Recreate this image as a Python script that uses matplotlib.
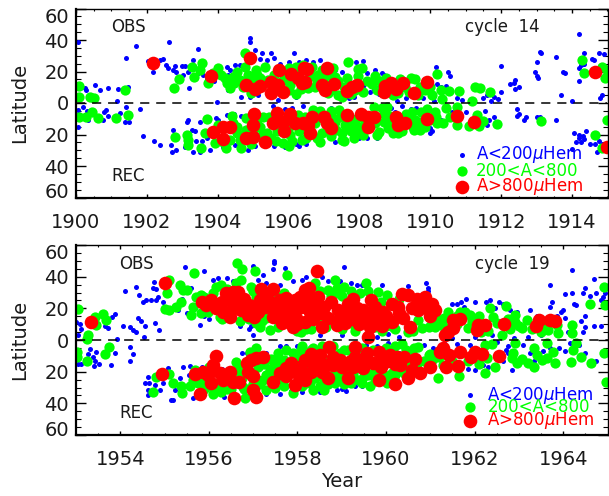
import matplotlib
matplotlib.use("Agg")
import matplotlib.pyplot as plt
from matplotlib.ticker import MultipleLocator, FixedLocator
from matplotlib.transforms import ScaledTranslation

# cycle 14 as (year, latitude), south is negative
small_14 = [
    (1900.06,38.7),(1901.69,36.4),(1902.63,38.7),(1903.43,34.3),(1901.42,28.8),(1904.9,41),(1904.9,38.5),(1905.05,33.7),
    (1905.24,31.5),(1905.5,31.5),(1906.15,32),(1900.25,9.3),(1900.53,11.4),(1900.29,8.3),(1900.89,9.3),(1901.19,8.9),
    (1901.47,9.9),(1900.67,8.3),(1901.17,1.5),(1902.03,26.7),(1902.36,27.3),(1902.46,27.7),(1902.18,19.9),(1902.6,22),
    (1902.79,23.5),(1902.98,23.5),(1903.09,23.5),(1902.83,19.9),(1903.02,17.8),(1903.18,9.5),(1903.98,0.8),(1903.59,17.8),
    (1904.25,23),(1904.34,21),(1903.87,19.9),(1904.62,24),(1904.67,4),(1904.91,4),(1905.14,5),(1905.4,27),(1905.75,25),
    (1906,26),(1906.2,4),(1905.7,2),(1903.7,15),(1903.9,14),(1904.3,8),(1904.3,18),(1904.5,24),(1902.75,21),(1902.55,24),
    (1903.15,20),(1903.3,27),(1903.45,19),(1905.2,28),(1905.6,28.5),(1906.3,26),(1906.5,27),(1906.7,26),(1906.9,27.5),
    (1907.1,24),(1907.3,21),(1907.5,19.5),(1907.9,26),(1908.1,26.5),(1908.2,19),(1908.45,21),(1908.65,19),(1908.7,18),
    (1908.8,16),(1909,12),(1908.1,11),(1908.3,7),(1908.4,8),(1908.55,6),(1907.85,4),(1907.7,3),(1909.3,3),(1909.05,1.5),
    (1909.6,4),(1909.8,3),(1910.1,1.5),(1910.15,23),(1910.5,19.5),(1910.55,17),(1910.2,12),(1910.3,10),(1910.4,8),
    (1910.45,11),(1910.75,3),(1910.9,2),(1911.5,3),(1911.6,5),(1911.7,1),(1911.8,4),(1911.9,2.5),(1911.99,7),(1912.0,23.5),
    (1912.25,12),(1912.35,13),(1912.38,14.5),(1912.4,9),(1912.5,10),(1912.95,20),(1913.0,17),(1913.05,16),(1913.1,32.5),
    (1913.12,32),(1913.0,26),(1913.55,29),(1913.75,20),(1913.8,19),(1913.7,5),(1914.2,22),(1914.25,24),(1914.3,25),
    (1914.2,44),(1914.35,32),(1914.35,25),(1914.55,28),(1914.62,27),(1914.75,32),(1914.9,31),(1914.8,3),(1914.85,5),
    (1914.0,1),(1914.2,14),(1900.06,-15.4),(1900.06,-4.4),(1900.2,-2.8),(1900.34,-10.8),(1900.76,-10.8),(1900.86,-4.4),
    (1901.23,-6.6),(1901.4,-2.3),(1901.37,-12.3),(1901.5,-12.3),(1901.8,-3.6),(1901.9,-21),(1902.19,-23.9),(1902.36,-26.7),
    (1902.74,-17.1),(1902.69,-26.7),(1902.72,-30.9),(1902.83,-29.8),(1903.07,-27.7),(1903.31,-30.9),(1903.49,-30.9),
    (1903.26,-17),(1903.35,-18),(1903.12,-11.9),(1903.16,-11),(1903.49,-11.9),(1903.78,-29.8),(1903.96,-9.7),(1904,-10.8),
    (1904.25,-7.6),(1904.48,-26.7),(1904.86,-29.8),(1900.9,-8),(1900.8,-6),(1900.3,-5),(1900.15,-8),(1903.55,-24),
    (1903.4,-24),(1903.7,-22),(1904.15,-28),(1904.45,-7),(1904.65,-8),(1905.55,-2),(1905.9,-4),(1906.1,-3),(1906.2,-26),
    (1905.6,-27),(1905.9,-28),(1905.05,-27),(1906.4,-2),(1906.3,-27),(1906.5,-26),(1907.2,-3),(1907.3,-25),(1907.5,-24),
    (1908.0,-22.5),(1908.2,-22),(1908.5,-22),(1908.6,-4),(1908.9,-3),(1909,-6),(1909.2,-2),(1909.45,-4),(1909.6,-3),
    (1909.65,-18),(1910.0,-16),(1910.05,-18),(1910.0,-19),(1910.2,-8),(1910.3,-11),(1910.6,-6),(1910.75,-4),(1911.0,-6),
    (1911.15,-12),(1911.4,-10),(1911.55,-5),(1911.6,-14),(1911.65,-11),(1911.8,-9),(1912.45,-4),(1912.5,-7),(1912.45,-8),
    (1912.65,-11),(1912.7,-9),(1913.0,-9),(1913.1,-9),(1913.55,-11),(1914,-29),(1914.05,-19),(1914.1,-25),(1914.2,-20.5),
    (1914.2,-22),(1914.3,-21),(1914.25,-25),(1914.35,-23),(1914.4,-17.5),(1914.5,-26),(1914.65,-26),(1914.7,-31),
    (1914.75,-24),(1914.85,-26),(1914.9,-30),
]
medium_14 = [
    (1900.08,10.8),(1900.08,4),(1900.4,4),(1900.5,3.4),(1901.39,8.3),(1902.76,9.7),(1902.9,15),(1903.26,23),(1903.56,25.6),
    (1903.33,16.7),(1903.49,21),(1903.73,12.5),(1904.01,22),(1903.87,18.8),(1904.2,15.7),(1904.25,12.5),(1904.34,9.3),
    (1904.53,19.9),(1904.76,31.5),(1904.76,23),(1904.62,14.6),(1904.43,16.7),(1904.86,17.8),(1905.09,21),(1905.33,23),
    (1905.19,15.7),(1904.95,6.1),(1905.42,14.6),(1906.04,11.4),(1905.94,16.7),(1906.22,23),(1906.22,6),(1906.41,24),
    (1900.08,-9.1),(1900.27,-8.7),(1900.46,-5.9),(1900.62,-9.3),(1901.12,-9.3),(1901.46,-7.8),(1902.79,-21.8),(1903.12,-20.3),
    (1903.15,-23.5),(1903.16,-26.7),(1903.54,-28.4),(1903.7,-10.2),(1903.63,-18.8),(1903.92,-25.6),(1904.23,-28.8),
    (1904.39,-8),(1904.53,-19.3),(1904.67,-28.8),(1904.81,-9.7),(1905.28,-8.7),(1905.19,-15),(1905.24,-20.3),(1905.38,-19),
    (1905.66,-18),(1905.85,-25.6),(1906.04,-20),(1906.37,-23.5),(1906.27,-7.6),(1906.47,-8.7),(1904.43,-12.9),(1904.62,-23.5),
    (1904.34,-23.5),(1905.5,-22),(1906.1,-24),(1905.0,-17),(1907.69,25.8),(1907.97,21.6),(1908.07,22.4),(1906.98,16.7),
    (1906.75,16.7),(1906.84,17.8),(1907.31,16.7),(1907.64,15.7),(1906.56,9.3),(1906.75,10.4),(1907.12,6.1),(1907.5,4),
    (1907.88,8.3),(1908.35,12),(1908.58,14.2),(1909.57,15.2),(1910.18,18.4),(1910.04,5),(1910.52,7.8),(1910.82,7.8),
    (1910.33,2.5),(1911.17,1.5),(1911.25,9.9),(1911.41,9.5),(1911.69,7.2),(1909.71,9.9),(1909.85,8.3),(1909.1,6.1),
    (1909.29,10.4),(1906.6,18),(1907,13),(1907.2,8),(1907.4,5),(1906.89,-24.5),(1907.5,-23.5),(1907.69,-16),(1907.83,-12.9),
    (1907.97,-19.3),(1907.41,-4.4),(1907.6,-14),(1907.75,-18),(1908,-15),(1907.9,-10),(1908.1,-20),(1907.7,-9),(1907.5,-19),
    (1907.3,-12),(1907.2,-21),(1906.95,-19),(1906.7,-4.5),(1906.9,-5),(1907.2,-8),(1908.4,-2.3),(1908.63,-3.4),(1908.77,-2.8),
    (1908.68,-11.9),(1908.54,-18.2),(1908.96,-19.3),(1909.48,-5.5),(1909.57,-10.8),(1909.71,-17.1),(1910.14,-5.5),
    (1910.44,-3),(1910.37,-12.9),(1910.75,-2.3),(1910.75,-14),(1911.08,-14.4),(1911.31,-7.6),(1911.5,-11.2),(1911.36,-14.6),
    (1911.88,-13.5),(1913.13,-11.4),(1914.64,-20.3),(1914.33,19.3),(1914.28,27.3),(1914.85,23),(1914.94,15.7),(1914.98,-10.8),
    (1914.84,-28.8),(1914.99,21),(1908.8,-16),(1909.1,-19),(1909.3,-7),(1909.75,-6),(1909.9,-4),(1910,-11),(1910.2,-13),
    (1908.85,-8),(1909.5,-15),
    (1904.1,18),(1904.45,13),(1904.7,10),(1904.95,14),(1905.1,18),(1905.3,13),(1905.6,18),(1905.8,14),(1906,8),(1906,22),
    (1906.2,18),(1906.35,9),(1906.65,23),(1906.8,13),(1906.95,21),(1907.1,18),(1907.25,22),(1907.4,14),(1907.55,10),(1907.75,6),
    (1907.95,17),(1908.1,7),(1908.2,14),(1908.45,17),(1908.5,8),(1908.75,16),(1908.95,5),(1909.15,15),(1909.4,7),(1909.45,16),
    (1909.65,5),(1910,10),(1910.3,8),(1904.0,-14),(1904.15,-25),(1904.55,-15),(1904.8,-17),(1904.95,-26),(1905.1,-11),(1905.45,-9),
    (1905.4,-25),(1905.65,-24),(1906.0,-15),(1906,-27),(1906.3,-18),(1906.5,-22),(1906.75,-13),(1906.8,-22),(1907.2,-5),(1907.35,-17),
    (1907.45,-9),(1907.55,-24),(1907.85,-22),(1908.15,-11),(1908.45,-13),(1908.5,-20),(1908.7,-7),(1908.95,-13),(1909.2,-18),
    (1909.4,-10),(1909.55,-17),(1909.7,-12),(1909.85,-15),(1910.15,-9),(1910.55,-9),
]
large_14 = [
    (1902.18,25.2),(1903.82,17),(1904.9,28.8),(1904.8,11.4),(1905.05,8.7),(1905.2,10.8),(1905.5,13.5),(1905.73,21),(1905.5,6.5),
    (1905.85,7.2),(1905.7,11.4),(1906.08,18.4),(1906.27,15.7),(1906.43,22),(1906.37,12.5),(1903.87,-18.2),(1904.15,-15.4),
    (1904.36,-15.4),(1904.15,-23),(1904.8,-22.4),(1905,-21.4),(1905,-14),(1905.02,-7.2),(1905.33,-24.5),(1905.56,-13),
    (1905.68,-6.6),(1905.85,-11.9),(1905.87,-17.6),(1906.05,-7),(1906.18,-13),(1906.41,-13),(1906.51,21.6),(1907.08,22),
    (1906.47,13.5),(1906.94,11.4),(1907.03,8.3),(1907.27,12),(1907.64,7.8),(1907.78,10),(1907.92,11.4),(1908.68,7.2),
    (1908.73,10.8),(1908.9,12.9),(1909.03,8.7),(1909.24,12.5),(1909.55,6.1),(1909.92,13.5),(1906.65,-8.7),(1906.56,-14),
    (1906.6,-19.3),(1907,-8.7),(1907.08,-12.9),(1907.2,-16),(1907.64,-7.6),(1908.05,-7.2),(1908.25,-8.7),(1908.4,-8.7),
    (1908.25,-15.4),(1909.04,-9.1),(1909.09,-14),(1909.29,-12.9),(1909.92,-10.2),(1910.75,-8),(1911.22,-12.3),(1914.64,19.7),
    (1915,-27.7),
]

# cycle 19
small_19 = [
    (1954.1,31.2),(1954.35,33.3),(1954.42,28.4),(1954.75,36.4),(1954.74,33),(1954.81,32),(1955.45,45.9),(1955.9,43.6),
    (1954.51,24),(1954.59,25),(1954.7,25),(1954.81,25.5),(1954.96,24),(1954.85,27),(1954.06,9),(1954.21,8),(1954.29,6.3),
    (1954.36,5),(1954.4,13.7),(1954.47,12),(1954.55,9),(1954.53,2),(1954.78,10.5),(1954.87,6.3),(1953.93,0.4),(1955.81,9.5),
    (1953.01,11.5),(1953.05,3),(1953.12,6.7),(1953.72,7.4),(1953.81,14.3),(1953.89,16.4),(1953.65,9),(1953.1,10),
    (1956.99,46.5),(1957.22,41),(1957.46,50),(1957.46,48.4),(1957.73,45.5),(1957.45,44.6),(1956.1,38),(1956.2,39),(1956.4,39),
    (1956.55,37),(1955.6,33),(1955.7,28),(1955.4,26),(1955.3,19),(1955.5,17),(1955.9,15),(1956.0,13.5),(1956.95,9),
    (1957.0,3),(1957.2,8),(1956.7,9),(1956.9,7),(1957.1,38),(1957.3,36),(1957.6,35),(1957.9,37),(1958.1,38),(1958.2,40),
    (1958.4,44),(1958.55,40),(1958.7,37),(1958.95,37),(1959.05,46),(1959.2,36),(1959.35,35),(1959.45,35),(1958.1,4),
    (1958.5,3),(1959.0,3),(1959.5,1.5),(1959.8,2),(1960.05,4),(1960.3,2),(1959.9,35),(1960.5,34),(1960.9,36),(1960.95,33),
    (1960.95,31),(1961.1,23),(1961.4,19),(1961.5,23),(1961.6,23),(1961.7,24),(1961.8,26),(1961.75,21),(1962.0,24),(1962.25,24),
    (1962.35,25),(1962.55,24),(1962.65,23),(1962.45,20),(1962.8,19),(1962.95,18),(1963.25,19),(1963.4,15),(1963.7,21),(1963.85,15),
    (1963.95,18),(1964.0,19),(1964.05,14),(1964.3,22),(1964.2,30),(1964.25,23),(1963.7,35),(1963.75,24),(1964.05,29),(1964.2,44),
    (1964.45,30),(1964.5,33),(1964.6,28),(1964.7,38.5),(1964.75,30),(1964.85,25),(1964.9,27),(1964.95,30),(1964.85,9),(1964.7,9),
    (1964.5,8),(1964.45,5),(1964.4,12),(1964.5,15),(1964.1,5),(1963.5,3),(1963.2,2),(1962.9,1.5),(1962.4,3),(1962,2),(1961.5,1.5),
    (1953.05,-15),(1953.31,-5.5),(1953.46,-7.4),(1953.27,-9),(1953.12,-15),(1953.38,-10.5),(1953.4,-16.4),(1953.53,-15),
    (1953.8,-16),(1953.87,-8.4),(1954.23,-4.6),(1954.29,-9),(1954.21,-13.3),(1953.42,-13),(1954.55,-27),(1954.63,-23.6),
    (1954.64,-27.4),(1954.63,-31.6),(1954.63,-35),(1954.78,-28.4),(1954.89,-31.6),(1954.96,-27.4),(1955.15,-38),(1955.2,-38),
    (1955.23,-31.6),(1955.08,-17.9),(1955.42,-16.8),(1955.57,-16.4),(1955.64,-36.4),(1955.87,-29),(1955.35,-24),(1955.55,-22),
    (1955.85,-17),(1956.3,-18),(1956.75,-8),(1956.85,-8),(1957.0,-6),(1957.3,-8),(1957.6,-4),(1957.75,-4),(1958.0,-4),
    (1957.0,-34),(1956.8,-33),(1956.35,-36),(1956.5,-33),(1957.3,-34),(1957.6,-34),(1957.85,-32),(1958.1,-33),(1958.5,-33),
    (1958.9,-31.5),(1959.0,-31),(1959.1,-32),(1959.3,-29),(1959.45,-29),(1959.55,-3),(1959.8,-4),(1960.05,-2),(1960.3,-8),
    (1960.85,-3),(1961.05,-5),(1961.1,-7),(1961.3,-2),(1961.6,-2.5),(1961.9,-3),(1961.85,-18),(1962,-19),(1962.2,-16),(1962.3,-17),
    (1962.4,-3),(1962.5,-1.5),(1962.7,-6),(1962.75,-4),(1962.75,-8),(1962.65,-13),(1962.85,-19),(1963.1,-3),(1963.25,-8),
    (1963.35,-13),(1963.55,-7),(1963.7,-5),(1963.9,-5),(1964.05,-7),(1964.15,-2),(1964.35,-3),(1964.5,-8),(1964.75,-13),(1964.95,-7),
]
medium_19 = [
    (1953.05,19.4),(1953.42,14.7),(1953.61,16.4),(1953.67,12.6),(1953.27,3.2),(1953.46,9.5),(1953.25,0.4),(1955.11,38),(1955.05,29.5),
    (1955,19.6),(1955.11,19),(1955.26,21),(1955.38,24.2),(1955.34,34.7),(1955.42,31.6),(1955.51,31.6),(1955.66,42.5),(1955.6,15.8),
    (1955.72,27.4),(1955.64,21),(1955.83,28.4),(1955.83,16.8),(1956.17,33.7),(1956.28,34.7),(1956.63,48.4),(1956.75,44.8),
    (1956.62,36.2),(1956.72,37.9),(1957.05,43.8),(1956.96,33.7),(1957.07,27.4),(1957.07,10.5),(1957.15,8),(1957.37,6.3),
    (1957.3,13.7),(1957.56,27.4),(1957.77,41),(1956.24,14.7),(1955.98,18),(1958.09,5.3),(1953.25,-13.3),(1953.02,-7.4),
    (1953.02,-10.5),(1953.74,-4.2),(1953.66,-9),(1954.8,-23.6),(1954.74,-33),(1955.11,-21.7),(1955.2,-27),(1955.38,-28.8),
    (1955.4,-33.7),(1955.57,-28.8),(1955.68,-19),(1955.75,-27.4),(1956.09,-34.3),(1956.28,-32.6),(1956.62,-13.7),(1956.66,-20),
    (1956.81,-36.4),(1956.77,-29.5),(1956.92,-7.4),(1957.07,-5.3),(1957.3,-31.6),(1957.22,-25.3),(1957.37,-19),(1957.56,-8.4),
    (1957.75,-6.3),(1957.9,-33.3),(1957.9,-8.4),(1958.09,-6.3),(1957.7,-12.6),(1957.56,-21),(1957.67,-25),(1957.45,-17),
    (1958.0,-29),(1958.13,-17),(1958.1,-29),(1955.9,-31),(1956.1,-30),(1956.4,-31),(1956.0,-17),(1956.95,-30),(1957.5,-30),
    (1957.25,-15),(1957.4,-12),(1957.55,-14),(1957.7,-29),(1957.15,-28),(1956.2,-27),
    (1958.85,37.9),(1959.06,33.7),(1959.54,35.8),(1958.89,29.5),(1958.7,31.6),(1959.41,29.5),(1959.81,30.5),(1960.02,28.4),
    (1959.89,24.2),(1962.35,20),(1962.7,21.7),(1964.6,22.7),(1964.93,33.7),(1964.95,22),(1961.78,17.9),(1961.9,15.8),(1961.67,17.9),
    (1961.41,17.9),(1961.11,8.4),(1960.81,7.4),(1960.96,8.4),(1960.73,12.6),(1961.22,12.6),(1961.86,7.4),(1961.93,11.6),
    (1962.42,14.3),(1962.61,3.2),(1962.91,15.8),(1962.91,11.6),(1963.06,7.4),(1963.18,12.6),(1963.66,6.3),(1963.89,4.2),
    (1963.85,9.5),(1964.19,9.5),(1964.19,4.2),(1961.41,13.7),(1961.3,8.4),(1958.2,7),(1958.4,36),(1958.6,12),(1958.75,28),
    (1959,7),(1959.3,6),(1959.9,6),(1960.2,7),(1960.5,5),(1961.0,14),(1961.6,10),(1962.15,5),(1962.3,6),(1962.8,7),
    (1955.9,27),(1956.1,30),(1956.3,13),(1956.4,32),(1956.7,12),(1956.9,13),(1957,31),(1957.2,12),(1957.3,18),(1957.55,8),(1957.7,30),
    (1958,6),(1958.1,28),(1958.3,7),(1958.35,34),(1958.5,31),(1958.65,8),(1958.9,33),(1959,28),(1959.2,31),(1959.3,8),(1959.6,31),
    (1959.75,8),(1960.0,9),(1960.15,8),(1960.3,26),(1960.6,6),(1960.7,25),(1961.1,12),(1961.1,17),(1961.3,14),(1961.6,15),(1961.95,13),
    (1962.1,15),(1962.5,11),(1962.75,13),(1963,9),(1963.3,7),(1963.55,9),(1963.5,5),
    (1958.59,-31.6),(1958.36,-31.6),(1958.28,-27.4),(1958.85,-27.4),(1958.92,-21),(1959.64,-28.8),(1960.02,-27.4),(1959.38,-25.3),
    (1960.13,-21),(1960.35,-2.5),(1960.62,-5.3),(1960.73,-4.2),(1960.58,-11.6),(1960.96,-9.5),(1961.18,-24.2),(1961.65,-22.7),
    (1961.29,-15.8),(1962.23,-21),(1962.46,-16.8),(1962.39,-2.5),(1962.23,-3.2),(1962.27,-11.6),(1962.91,-2.1),(1962.87,-8.4),
    (1962.84,-11.6),(1962.95,-14.7),(1963.06,-12.2),(1963.21,-14.7),(1963.33,-5.3),(1963.33,-16.8),(1963.4,-9.5),(1963.51,-12.6),
    (1963.63,-2.1),(1963.63,-11.6),(1963.78,-7.4),(1963.81,-14.7),(1964.18,-13.7),(1964.23,-6.3),(1964.28,-2.1),(1964.4,-10.5),
    (1964.63,-14.3),(1964.91,-8.4),(1964.96,-26.3),(1958.3,-6),(1958.5,-20),(1958.6,-25),(1958.8,-4),(1959.05,-6),(1959.1,-20),
    (1959.3,-18),(1959.5,-23),(1959.7,-21),(1959.95,-22),(1960.3,-19),(1960.5,-17),(1960.7,-15),(1961.05,-12),(1961.2,-11),
    (1961.5,-13),(1961.85,-13),(1962.1,-15),
    (1957.95,-12),(1958.0,-20),(1958.2,-27),(1958.3,-15),(1958.4,-24),(1958.5,-29),(1958.6,-13),(1958.7,-28),(1958.8,-22),(1958.95,-25),
    (1959.05,-28),(1959.2,-27),(1959.25,-22),(1959.45,-27),(1959.6,-22),(1959.75,-26),(1959.9,-21),(1960.05,-23),(1960.2,-22),(1960.4,-21),
    (1960.55,-14),(1960.85,-13),(1961,-9),(1958.05,-10),(1958.1,-4),(1958.35,-5),(1958.55,-4),(1958.95,-8),(1959.15,-6),(1959.45,-5),
    (1959.7,-6),(1960,-5),(1960.2,-4),(1960.5,-8),(1960.45,-6),(1957.1,-17),(1957.3,-22),(1957.1,-25),(1957.5,-22),(1956.75,-24),
    (1956.3,-30),(1956.5,-31),(1956.8,-31),(1957.0,-28),(1955.9,-26),(1955.65,-25),(1956.65,-17),
]
large_19 = [
    (1953.33,11.4),(1955.02,36.2),(1955.85,24.2),(1956.05,25.3),(1955.94,22),(1956.17,20),(1956.32,17.9),(1956.47,14.7),(1956.39,29.5),
    (1956.54,30.5),(1956.66,30.5),(1956.51,25),(1956.69,24),(1956.8,26),(1956.54,20),(1956.73,19),(1956.88,15.8),(1957.03,14.7),
    (1956.99,19),(1957.18,32),(1957.45,32),(1957.3,28.4),(1957.26,21),(1957.48,20),(1957.45,14.7),(1957.64,10.5),(1957.75,26.3),
    (1957.94,25.3),(1957.67,21),(1957.82,19),(1957.6,15.8),(1957.75,12.6),(1957.9,8.4),(1957.97,13.7),(1958.16,31.6),(1958.09,21),
    (1958.16,11.6),(1954.95,-21.5),(1955.68,-21.7),(1955.79,-34.3),(1956.15,-9.9),(1955.87,-20),(1955.98,-22),(1956.09,-15.8),
    (1956.05,-27.4),(1956.32,-25.3),(1956.47,-20),(1956.54,-26.3),(1956.69,-26.3),(1956.56,-36.8),(1956.85,-14.7),(1956.96,-12.6),
    (1957.07,-11.6),(1957.22,-10.5),(1956.88,-20),(1956.99,-23),(1956.99,-31.6),(1957.07,-35.8),(1957.45,-26.3),(1957.6,-21),
    (1957.75,-17.9),(1957.86,-14.7),(1957.94,-17.9),(1957.75,-23),(1957.94,-28.4),(1958.09,-23),(1958.16,-12.6),
    (1958.45,43.6),(1958.25,32.6),(1958.47,27.4),(1958.28,17.9),(1958.17,21),(1958.51,16.8),(1958.59,21),(1958.55,8.4),(1958.92,19),
    (1958.89,9.5),(1959.11,16.8),(1959.26,25.7),(1959.15,23),(1959.07,10.5),(1959.49,19),(1959.3,14.7),(1959.66,25.3),(1959.64,15.8),
    (1959.64,8.4),(1959.6,2.1),(1959.79,10.5),(1959.94,17.9),(1960.13,22.7),(1960.26,21),(1960.13,11.6),(1960.39,13.7),(1960.35,29),
    (1960.5,28.4),(1960.54,8.4),(1960.58,20),(1960.73,19),(1960.87,27),(1961.03,22.7),(1960.99,15.2),(1960.92,20),(1961.52,12.6),
    (1961.67,13),(1961.41,5.3),(1961.52,7.4),(1961.33,3.2),(1962.05,6.3),(1962.08,9.5),(1962.23,9.5),(1962.67,9.9),(1963.38,8.8),
    (1963.45,12.6),(1963.7,12.6),(1963.81,12),(1958.71,-4.2),(1958.51,-9.5),(1958.25,-12.6),(1958.17,-25),(1958.7,-24.2),
    (1958.66,-15.8),(1958.81,-10.5),(1958.96,-12.6),(1959.11,-14.7),(1959.15,-24.2),(1959.29,-4.2),(1959.3,-10.5),(1959.26,-16.8),
    (1959.56,-8.4),(1959.49,-17.9),(1959.71,-14.7),(1959.89,-16.8),(1959.84,-25.3),(1959.83,-7.4),(1960.09,-9.5),(1960.24,-10.5),
    (1960.32,-15.8),(1960.2,-27.8),(1960.49,-24.2),(1960.65,-12.2),(1960.58,-19),(1960.77,-20.6),(1960.99,-16.8),(1961.29,-5.3),
    (1961.22,-7.4),(1961.43,-9.5),(1961.67,-7.4),(1961.35,-16.8),(1961.63,-16.2),(1961.91,-10.5),(1962.01,-7.4),(1962.17,-8.8),
    (1962.54,-9.9),
    (1956.3,24),(1956.6,27),(1956.9,22),(1957.1,18),(1957.15,25),(1957.6,25),(1957.4,24),(1957.9,17),(1958.05,27),(1958.3,25),(1958.0,10),
    (1958.35,13),(1958.4,21),(1958.7,14),(1958.75,24),(1958.95,14),(1959.2,13),(1959.35,20),(1959.4,10),(1959.5,13),(1959.75,21),(1959.85,14),
    (1959.9,9),(1960.0,15),(1960.3,17),(1960.7,26),(1960.85,23),(1961.1,19),
    (1956.25,-21),(1958.0,-21),(1958.05,-17),(1958.3,-20),(1958.3,-9),(1958.45,-14),(1958.55,-20),(1958.8,-16),(1959,-17),(1959.45,-13),
    (1959.2,-13),(1959.95,-12),(1960.05,-13),(1960.2,-15),(1960.4,-11),
]

labels = ["A<200$\\mu$Hem", "200<A<800", "A>800$\\mu$Hem"]
colors = ["#0000ff", "#00ff00", "#ff0000"]
sizes = [3.6, 7.4, 9.8]

plt.rcParams["font.family"] = "DejaVu Sans"
plt.rcParams["mathtext.fontset"] = "dejavusans"
ink = "#1a1a1a"

fig = plt.figure(figsize=(6.09, 4.96), dpi=100)
ax1 = fig.add_axes([76 / 609, 1 - 197.5 / 496, 531.5 / 609, 189 / 496])
ax2 = fig.add_axes([76 / 609, 1 - 435 / 496, 531.5 / 609, 190 / 496])


def draw_panel(ax, small, medium, large, years, xticks, name, obs_x, name_x, key_x, key_off, key_y):
    for pts, c, s in zip([small, medium, large], colors, sizes):
        ax.plot([p[0] for p in pts], [p[1] for p in pts], "o", color=c, ms=s, mew=0)
    ax.plot(years, [0, 0], color="black", lw=1.1, dashes=(6, 4.5))
    ax.set_xlim(years)
    ax.set_ylim(-60, 60)
    ax.xaxis.set_major_locator(FixedLocator(xticks))
    ax.xaxis.set_minor_locator(MultipleLocator(0.5))
    ax.yaxis.set_minor_locator(MultipleLocator(5))
    ax.set_yticks(range(-60, 61, 20), [abs(v) for v in range(-60, 61, 20)])
    ax.tick_params(which="both", direction="in", top=True, right=True, labelsize=14, labelcolor=ink)
    ax.tick_params(axis="y", which="major", length=7, width=1, pad=5)
    ax.tick_params(axis="y", which="minor", length=3.6, width=0.8)
    ax.tick_params(axis="x", which="major", length=3, width=1, pad=11)
    ax.tick_params(axis="x", which="minor", length=1.5, width=0.8)
    ax.set_ylabel("Latitude", fontsize=14, color=ink, labelpad=11)
    for side in ax.spines:
        ax.spines[side].set_linewidth(1.0)
    ax.spines["left"].set_linewidth(1.6)
    ax.spines["bottom"].set_linewidth(1.6)
    # the end labels sit inside the axis range
    tl = ax.get_yticklabels()
    tl[0].set_transform(tl[0].get_transform() + ScaledTranslation(0, 5 / 72, fig.dpi_scale_trans))
    tl[-1].set_transform(tl[-1].get_transform() + ScaledTranslation(0, -5 / 72, fig.dpi_scale_trans))

    ax.text(obs_x, 0.90, "OBS", transform=ax.transAxes, fontsize=12, color=ink, ha="left", va="center")
    ax.text(obs_x, 0.115, "REC", transform=ax.transAxes, fontsize=12, color=ink, ha="left", va="center")
    ax.text(name_x, 0.90, name, transform=ax.transAxes, fontsize=12, color=ink, ha="center", va="center")
    for lab, c, s, y in zip(labels, colors, sizes, key_y):
        ax.plot([key_x], [y], "o", color=c, ms=s, mew=0, transform=ax.transAxes)
        ax.text(key_x + key_off, y, lab, transform=ax.transAxes, fontsize=12, color=c, va="center", ha="left")


draw_panel(ax1, small_14, medium_14, large_14, [1900, 1915], range(1900, 1915, 2), "cycle  14",
           0.066, 0.803, 0.726, 0.026, [0.225, 0.142, 0.057])
draw_panel(ax2, small_19, medium_19, large_19, [1953, 1965], range(1954, 1965, 2), "cycle  19",
           0.082, 0.82, 0.741, 0.033, [0.21, 0.149, 0.075])
ax2.set_xlabel("Year", fontsize=14, color=ink, labelpad=2)

fig.savefig("out.png", dpi=100)
